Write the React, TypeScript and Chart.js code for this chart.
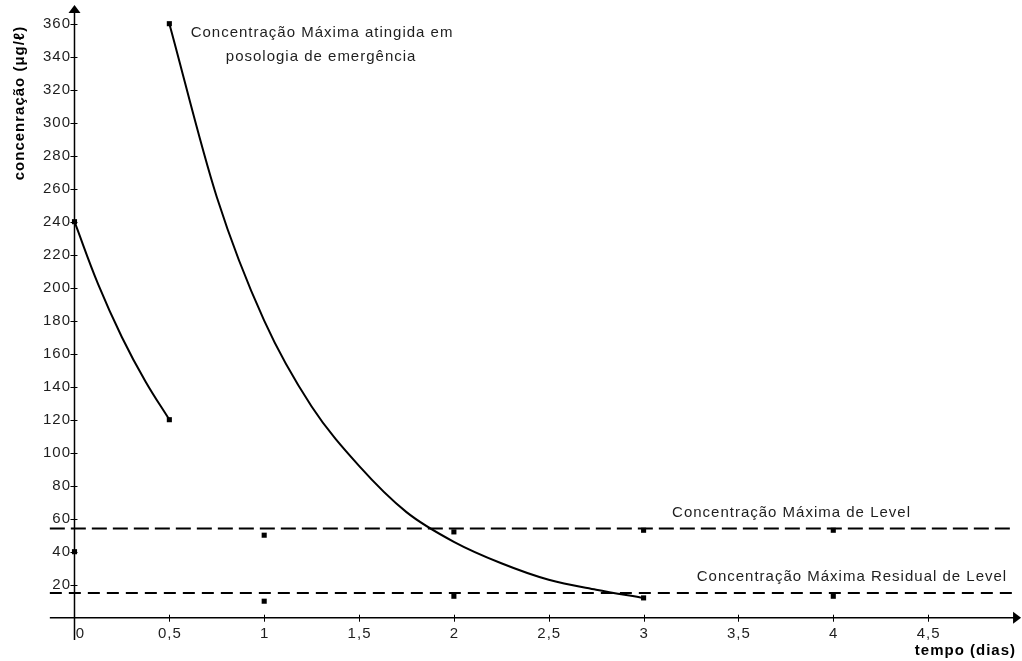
import React, { useEffect, useRef } from "react";
import { Chart, registerables } from "chart.js";

Chart.register(...registerables);

// ---- data ----
const xTicks = [0, 0.5, 1, 1.5, 2, 2.5, 3, 3.5, 4, 4.5];
const xTickLabels = ["0", "0,5", "1", "1,5", "2", "2,5", "3", "3,5", "4", "4,5"];
const yTicks = [20, 40, 60, 80, 100, 120, 140, 160, 180, 200, 220, 240, 260, 280, 300, 320, 340, 360];
const yTickLabels = ["20", "40", "60", "80", "100", "120", "140", "160", "180", "200", "220", "240", "260", "280", "300", "320", "340", "360"];

// first dose decay curve
const loadingX = [0, 0.125, 0.25, 0.375, 0.5];
const loadingY = [240, 202, 170, 143, 120];
// emergency dosing decay curve
const emergencyX = [0.5, 0.75, 1, 1.25, 1.5, 1.75, 2, 2.25, 2.5, 2.75, 3];
const emergencyY = [360, 255, 180, 128, 92, 64, 46, 33, 23, 17, 12];
// marked points
const markX = [0, 0.5, 0.5, 3, 0, 1, 1, 2, 2, 3, 4, 4];
const markY = [240, 120, 360, 12, 40, 50, 10, 52, 13, 53, 53, 13];
// reference levels
const maxLevel = 54;
const residualLevel = 15;
const levelFrom = -0.13;
const levelTo = 4.96;

const yTitle = "concenração (μg/ℓ)";
const xTitle = "tempo (dias)";
const noteEmergency = ["Concentração Máxima atingida em", "posologia de emergência"];
const noteMax = "Concentração Máxima de Level";
const noteResidual = "Concentração Máxima Residual de Level";

const FONT = '"Liberation Sans", Arial, sans-serif';
const TEXT = "#1e1e1e";

const pts = (xs: number[], ys: number[]) => xs.map((x, i) => ({ x, y: ys[i] }));

const axesPlugin = {
  id: "customAxes",
  beforeDatasetsDraw(chart: any) {
    const { ctx } = chart;
    const xs = chart.scales.x;
    const ys = chart.scales.y;
    const x0 = xs.getPixelForValue(0);
    const y0 = ys.getPixelForValue(0);
    ctx.save();
    ctx.strokeStyle = "#000";
    ctx.fillStyle = "#000";
    ctx.lineWidth = 1.5;
    // x axis
    const xStart = xs.getPixelForValue(-0.13);
    const xEnd = xs.getPixelForValue(4.99);
    ctx.beginPath();
    ctx.moveTo(xStart, y0);
    ctx.lineTo(xEnd - 6, y0);
    ctx.stroke();
    ctx.beginPath();
    ctx.moveTo(xEnd, y0);
    ctx.lineTo(xEnd - 8, y0 - 6);
    ctx.lineTo(xEnd - 8, y0 + 6);
    ctx.closePath();
    ctx.fill();
    // y axis
    const yBottom = ys.getPixelForValue(-13.5);
    const yTop = ys.getPixelForValue(371.3);
    ctx.beginPath();
    ctx.moveTo(x0, yBottom);
    ctx.lineTo(x0, yTop + 6);
    ctx.stroke();
    ctx.beginPath();
    ctx.moveTo(x0, yTop);
    ctx.lineTo(x0 - 6, yTop + 8);
    ctx.lineTo(x0 + 6, yTop + 8);
    ctx.closePath();
    ctx.fill();

    // ticks
    ctx.lineWidth = 1;
    yTicks.forEach((v) => {
      const py = Math.round(ys.getPixelForValue(v)) + 0.5;
      ctx.beginPath();
      ctx.moveTo(x0 - 4, py);
      ctx.lineTo(x0 + 3, py);
      ctx.stroke();
    });
    xTicks.forEach((v) => {
      if (v === 0) return;
      const px = Math.round(xs.getPixelForValue(v)) + 0.5;
      ctx.beginPath();
      ctx.moveTo(px, y0 - 3);
      ctx.lineTo(px, y0 + 4);
      ctx.stroke();
    });

    // tick labels
    ctx.fillStyle = TEXT;
    ctx.font = "15px " + FONT;
    (ctx as any).letterSpacing = "1px";
    ctx.textAlign = "right";
    ctx.textBaseline = "middle";
    yTicks.forEach((v, i) => {
      ctx.fillText(yTickLabels[i], x0 - 3.5, ys.getPixelForValue(v) + 0.5);
    });
    ctx.textAlign = "center";
    ctx.textBaseline = "top";
    xTicks.forEach((v, i) => {
      const px = xs.getPixelForValue(v) + (v === 0 ? 6 : 0.5);
      ctx.fillText(xTickLabels[i], px, y0 + 9);
    });

    // axis titles
    ctx.font = "bold 15px " + FONT;
    ctx.fillStyle = "#000";
    ctx.save();
    ctx.translate(20, 103);
    ctx.rotate(-Math.PI / 2);
    ctx.textAlign = "center";
    ctx.textBaseline = "middle";
    ctx.fillText(yTitle, 0, 0);
    ctx.restore();
    ctx.textAlign = "right";
    ctx.textBaseline = "alphabetic";
    ctx.fillText(xTitle, 1016, 655);

    // notes
    ctx.font = "15px " + FONT;
    ctx.fillStyle = TEXT;
    ctx.textAlign = "center";
    ctx.fillText(noteEmergency[0], xs.getPixelForValue(1.305), ys.getPixelForValue(352));
    ctx.fillText(noteEmergency[1], xs.getPixelForValue(1.3), ys.getPixelForValue(337.4));
    ctx.textAlign = "left";
    ctx.fillText(noteMax, xs.getPixelForValue(3.15), ys.getPixelForValue(61));
    ctx.fillText(noteResidual, xs.getPixelForValue(3.28), ys.getPixelForValue(22.2));
    ctx.restore();
  },
};

export default function App() {
  const ref = useRef<HTMLCanvasElement | null>(null);
  useEffect(() => {
    document.body.style.margin = "0";
    document.body.style.overflow = "hidden";
    if (!ref.current) return;
    const chart = new Chart(ref.current, {
      type: "scatter",
      data: {
        datasets: [
          {
            data: pts(loadingX, loadingY),
            showLine: true,
            borderColor: "#000",
            borderWidth: 2,
            pointRadius: 0,
            tension: 0.4,
          },
          {
            data: pts(emergencyX, emergencyY),
            showLine: true,
            borderColor: "#000",
            borderWidth: 2,
            pointRadius: 0,
            cubicInterpolationMode: "monotone",
          },
          {
            data: [
              { x: levelFrom, y: maxLevel },
              { x: levelTo, y: maxLevel },
            ],
            showLine: true,
            borderColor: "#000",
            borderWidth: 2,
            borderDash: [15, 6],
            pointRadius: 0,
          },
          {
            data: [
              { x: levelFrom, y: residualLevel },
              { x: levelTo, y: residualLevel },
            ],
            showLine: true,
            borderColor: "#000",
            borderWidth: 2,
            borderDash: [12, 7],
            pointRadius: 0,
          },
          {
            data: pts(markX, markY),
            showLine: false,
            pointStyle: "rect",
            pointRadius: 3.6,
            backgroundColor: "#000",
            borderColor: "#000",
            borderWidth: 0,
          },
        ],
      },
      options: {
        animation: false,
        responsive: false,
        devicePixelRatio: 1,
        layout: { padding: 0, autoPadding: false },
        plugins: { legend: { display: false }, tooltip: { enabled: false } },
        scales: {
          x: { type: "linear", display: false, min: -0.3927, max: 4.9948 },
          y: { type: "linear", display: false, min: -26.24, max: 374.36 },
        },
      },
      plugins: [axesPlugin],
    } as any);
    return () => chart.destroy();
  }, []);
  return <canvas ref={ref} width={1022} height={661} style={{ display: "block" }} />;
}
